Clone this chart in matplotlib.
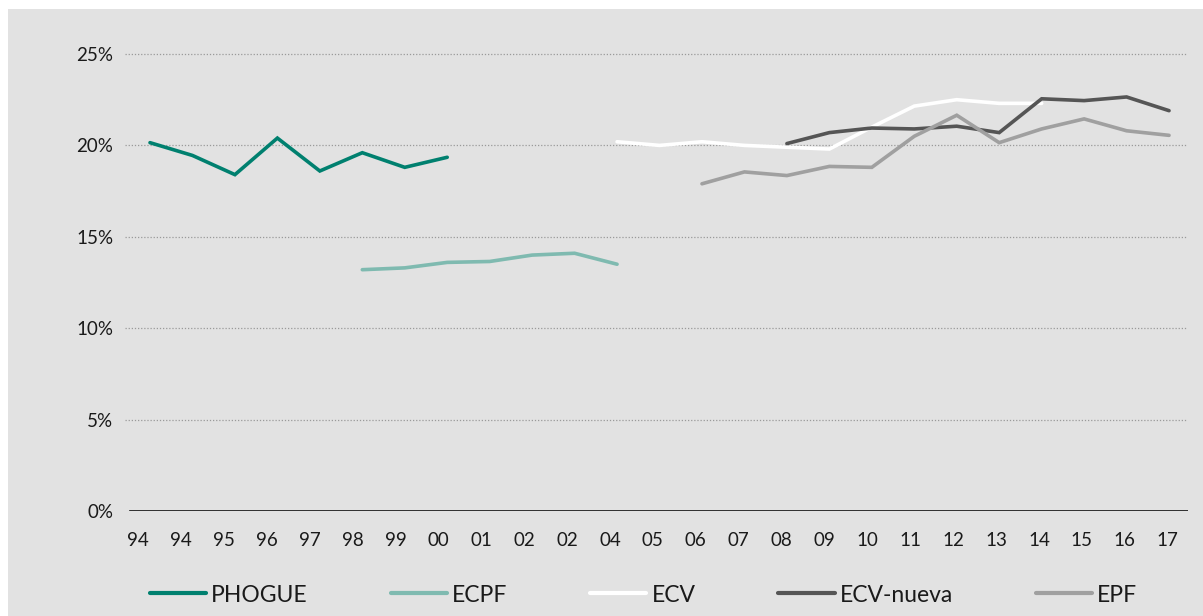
import matplotlib
matplotlib.use("Agg")
import matplotlib.pyplot as plt
from matplotlib.patches import Rectangle
import numpy as np

plt.rcParams['font.family'] = ['Lato', 'DejaVu Sans']

categories = ["94", "94", "95", "96", "97", "98", "99", "00", "01", "02", "02", "04", "05",
              "06", "07", "08", "09", "10", "11", "12", "13", "14", "15", "16", "17"]

nan = np.nan
phogue = [20.15, 19.45, 18.4, 20.4, 18.6, 19.6, 18.8, 19.35] + [nan] * 17
ecpf = [nan] * 5 + [13.2, 13.3, 13.6, 13.65, 14.0, 14.1, 13.5] + [nan] * 13
ecv = [nan] * 11 + [20.2, 20.0, 20.2, 20.0, 19.9, 19.8, 21.0, 22.15, 22.5, 22.3, 22.3] + [nan] * 3
ecv_nueva = [nan] * 15 + [20.1, 20.7, 20.95, 20.9, 21.05, 20.7, 22.55, 22.45, 22.65, 21.9]
epf = [nan] * 13 + [17.9, 18.55, 18.35, 18.85, 18.8, 20.5, 21.65, 20.15, 20.9, 21.45, 20.8, 20.55]

series = [("PHOGUE", phogue, "#00806f"),
          ("ECPF", ecpf, "#7fbab0"),
          ("ECV", ecv, "#ffffff"),
          ("ECV-nueva", ecv_nueva, "#555555"),
          ("EPF", epf, "#a0a0a0")]

W, H = 1203, 616
fig = plt.figure(figsize=(W / 100, H / 100), dpi=100)
fig.patch.set_facecolor("white")
bg = "#e2e2e2"
fig.patches.append(Rectangle((8 / W, 0), 1 - 8 / W, (H - 9) / H,
                             transform=fig.transFigure, facecolor=bg,
                             edgecolor="none", zorder=-10))

# axes geometry in pixels
ax_left, ax_right = 125, 1188
ax_bottom = H - 511
ymax = 26.0
px_per_pct = 18.28
ax_top_px = 511 - ymax * px_per_pct
ax = fig.add_axes([ax_left / W, ax_bottom / H, (ax_right - ax_left) / W,
                   (511 - ax_top_px) / H])
ax.set_facecolor("none")
ax.set_zorder(2)

x = np.arange(len(categories))
x0px, dx = 150.0, 42.46
ax.set_xlim((ax_left - x0px) / dx, (ax_right - x0px) / dx)
ax.set_ylim(0, ymax)

for name, vals, col in series:
    ax.plot(x, vals, color=col, lw=2.6, label=name, solid_capstyle="round",
            solid_joinstyle="miter", zorder=3)

# grid
for yv in [5, 10, 15, 20, 25]:
    ax.axhline(yv, color="#9a9a9a", lw=0.9, ls=(0, (1, 1.5)), zorder=1)
ax.axhline(0, xmin=5 / (ax_right - ax_left), xmax=1, color="#111111", lw=1.2, zorder=2)

for s in ax.spines.values():
    s.set_visible(False)

ax.set_yticks([0, 5, 10, 15, 20, 25])
ax.set_yticklabels([f"{v}%" for v in [0, 5, 10, 15, 20, 25]])
label_px = 138 + 42.9 * x
ax.set_xticks((label_px - x0px) / dx)
ax.set_xticklabels(categories)
ax.tick_params(axis="both", length=0, labelsize=13.5, colors="#1a1a1a")
ax.tick_params(axis="y", pad=8.5)
ax.tick_params(axis="x", pad=15)

leg = fig.legend(loc="center left", bbox_to_anchor=(150 / W, 21 / H), ncol=5,
                 frameon=False, fontsize=16.5, handlelength=2.45, handletextpad=0.22,
                 columnspacing=3.62, borderpad=0, borderaxespad=0)
for t in leg.get_texts():
    t.set_color("#1a1a1a")
for h in leg.legend_handles:
    h.set_linewidth(3)

fig.savefig("out.png", dpi=100, facecolor=fig.get_facecolor())
